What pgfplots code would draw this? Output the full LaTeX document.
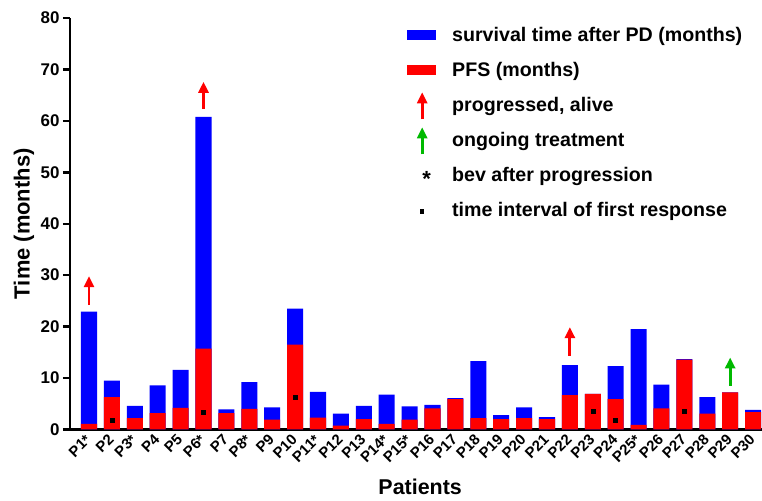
\documentclass[border=0pt]{standalone}
\usepackage{pgfplots}
\pgfplotsset{compat=1.18}
\usepackage{pgfplotstable}
\usepackage{fontspec}
\setmainfont{Liberation Sans}
\usetikzlibrary{arrows.meta}
\definecolor{cblue}{RGB}{0,0,255}
\definecolor{cred}{RGB}{255,0,0}
\definecolor{cgreen}{RGB}{0,185,0}

\pgfplotstableread{
x pfs post
1 1.1 21.8
2 6.3 3.2
3 2.2 2.4
4 3.2 5.4
5 4.2 7.4
6 15.7 45.1
7 3.2 0.7
8 4.0 5.2
9 1.9 2.4
10 16.5 7.0
11 2.3 5.0
12 0.75 2.35
13 2.0 2.6
14 1.1 5.7
15 1.9 2.6
16 4.1 0.7
17 5.9 0.2
18 2.2 11.1
19 2.0 0.8
20 2.2 2.1
21 2.0 0.4
22 6.7 5.8
23 6.9 0
24 5.9 6.4
25 0.9 18.6
26 4.1 4.6
27 13.6 0.1
28 3.1 3.2
29 7.2 0
30 3.4 0.4
}\data

\tikzset{myarrow/.style={line width=2.8bp, -{Triangle[width=10bp,length=11bp]}},
  legbox/.style={draw=none,fill=none}}

\begin{document}
\begin{tikzpicture}
\begin{axis}[
  name=ax,
  scale only axis,
  width=692bp, height=411.5bp,
  xmin=0.17, xmax=30.39,
  ymin=0, ymax=80,
  axis x line=bottom, axis y line=left,
  axis line style={-, line width=2.6bp},
  ytick={0,10,...,80},
  tick align=outside,
  major tick length=7bp,
  y tick style={line width=2.4bp, black},
  x tick style={draw=none},
  xtick={1,...,30},
  xticklabels={P1*,P2,P3*,P4,P5,P6*,P7,P8*,P9,P10,P11*,P12,P13,P14*,P15*,P16,P17,P18,P19,P20,P21,P22,P23,P24,P25*,P26,P27,P28,P29,P30},
  x tick label style={rotate=45, anchor=east, font=\bfseries\fontsize{15}{15}\selectfont, inner sep=1bp},
  y tick label style={font=\bfseries\fontsize{17}{17}\selectfont},
  /pgf/number format/assume math mode=true,
  xlabel={Patients},
  ylabel={Time (months)},
  xlabel style={at={(axis description cs:0.506,-0.159)}, anchor=base, font=\bfseries\fontsize{21.5}{21.5}\selectfont},
  ylabel style={at={(axis description cs:-0.0665,0.5)}, anchor=center, font=\bfseries\fontsize{22}{22}\selectfont},
  clip=false,
  legend style={at={(axis description cs:0.487,0.99)}, anchor=north west, draw=none, fill=none,
    font=\bfseries\fontsize{19.7}{19.7}\selectfont, row sep=9bp, inner sep=0pt,
    nodes={inner sep=0pt},
    /tikz/every odd column/.append style={column sep=15bp}},
  legend cell align=left,
]
\addplot[ybar, bar width=0.7, fill=cblue, draw=none, forget plot] table[x=x, y expr=\thisrow{pfs}+\thisrow{post}] {\data};
\addplot[ybar, bar width=0.7, fill=cred, draw=none, forget plot] table[x=x, y=pfs] {\data};
% first response time interval
\addplot[only marks, mark=square*, mark size=2bp, black, forget plot] coordinates {(2,1.9) (6,3.4) (10,6.25) (23,3.6) (24,1.8) (27,3.5)};
% progressed, alive arrows
\addplot[cred, myarrow, forget plot] coordinates {(1,24.2) (1,29.8)};
\addplot[cred, myarrow, forget plot] coordinates {(6,62.4) (6,67.6)};
\addplot[cred, myarrow, forget plot] coordinates {(22,14.3) (22,19.9)};
% ongoing treatment
\addplot[cgreen, myarrow, forget plot] coordinates {(29,8.5) (29,14.0)};

\addlegendimage{legend image code/.code={\path[legbox] (0bp,-13bp) rectangle (30bp,13bp); \fill[cblue,draw=none,overlay] (0bp,-5bp) rectangle (29bp,5bp);}}
\addlegendentry{survival time after PD (months)}
\addlegendimage{legend image code/.code={\path[legbox] (0bp,-13bp) rectangle (30bp,13bp); \fill[cred,draw=none,overlay] (0bp,-5bp) rectangle (29bp,5bp);}}
\addlegendentry{PFS (months)}
\addlegendimage{legend image code/.code={\path[legbox] (0bp,-13bp) rectangle (30bp,13bp); \draw[cred, myarrow, overlay] (15bp,-14bp) -- (15bp,13bp);}}
\addlegendentry{progressed, alive}
\addlegendimage{legend image code/.code={\path[legbox] (0bp,-13bp) rectangle (30bp,13bp); \draw[cgreen, myarrow, overlay] (15bp,-14bp) -- (15bp,13bp);}}
\addlegendentry{ongoing treatment}
\addlegendimage{legend image code/.code={\path[legbox] (0bp,-13bp) rectangle (30bp,13bp); \node[overlay, font=\bfseries\fontsize{22}{22}\selectfont, inner sep=0pt, text=black] at (15bp,-4.5bp) {*};}}
\addlegendentry{bev after progression}
\addlegendimage{legend image code/.code={\path[legbox] (0bp,-13bp) rectangle (30bp,13bp); \fill[black,draw=none,overlay] (12.8bp,-3.2bp) rectangle (17.2bp,1.2bp);}}
\addlegendentry{time interval of first response}
\end{axis}
\pgfresetboundingbox
\path ([xshift=-70bp,yshift=-71.5bp]ax.south west) rectangle ([yshift=18bp]ax.north east);
\end{tikzpicture}
\end{document}
